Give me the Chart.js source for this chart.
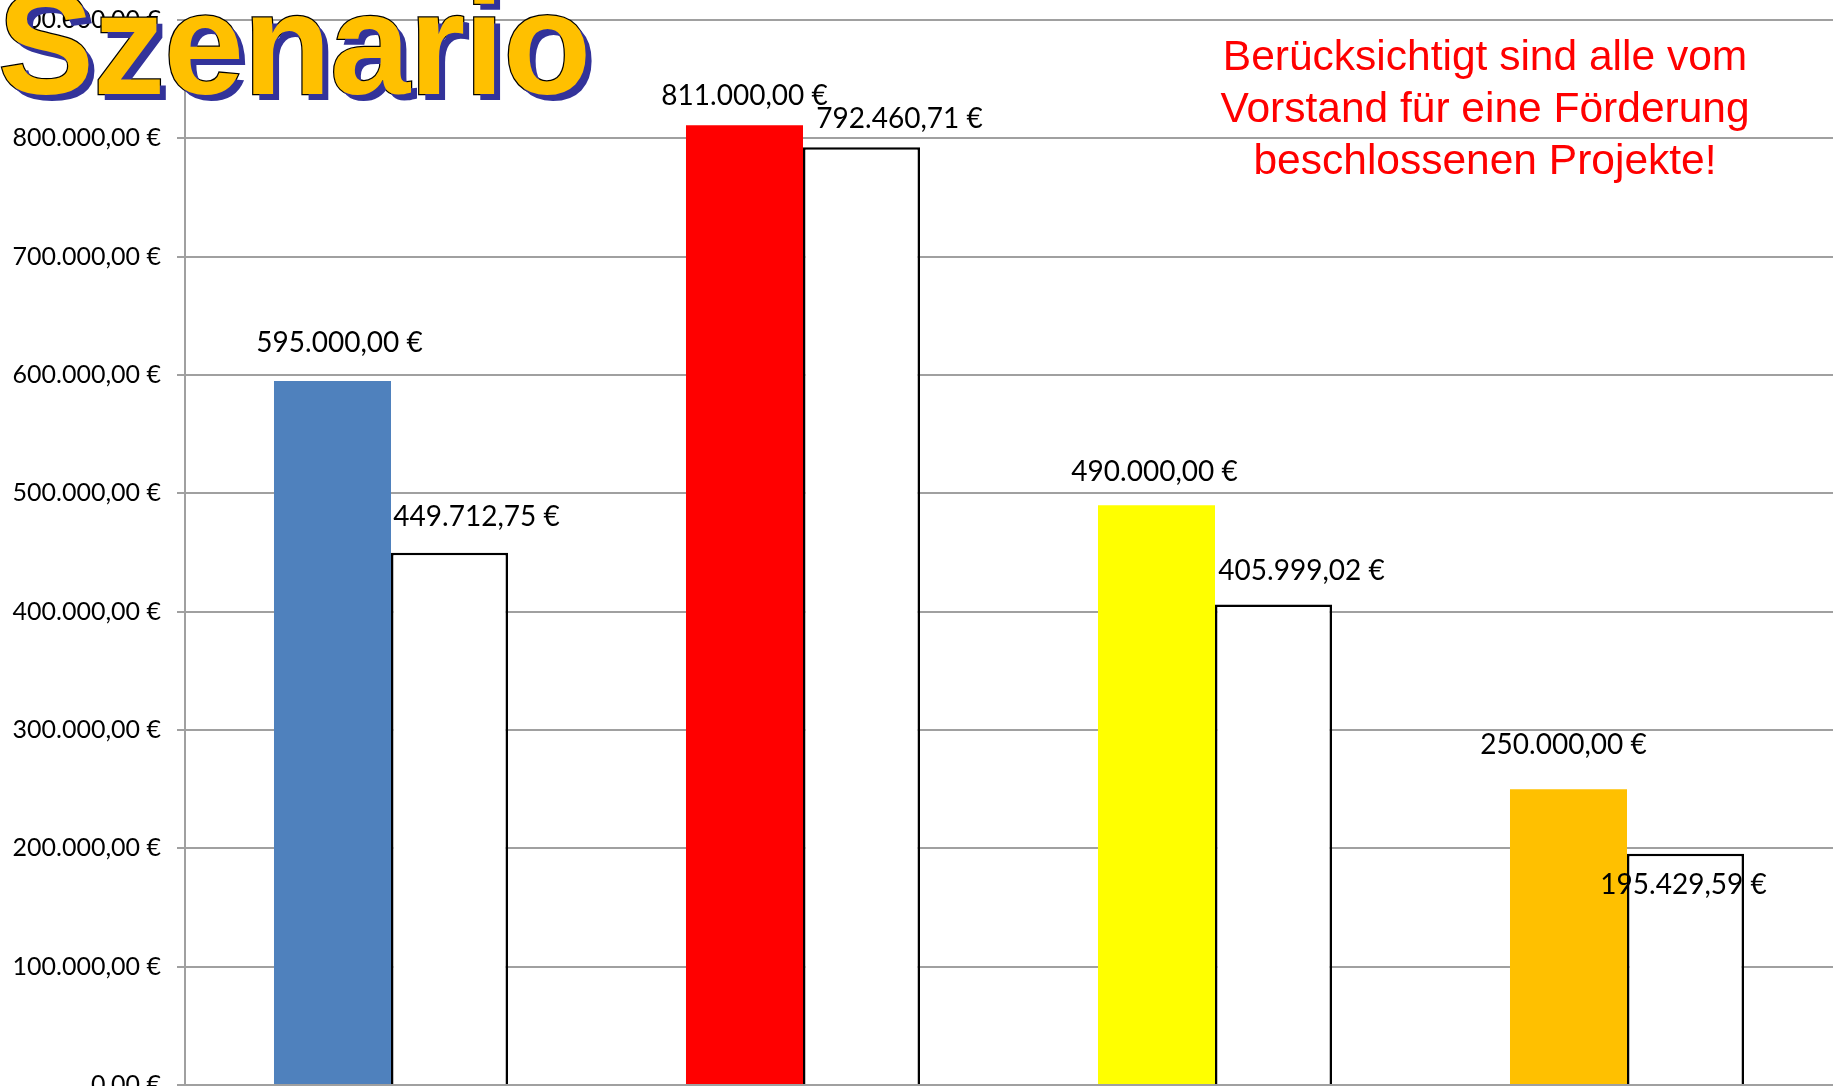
<!DOCTYPE html>
<html>
<head>
<meta charset="utf-8">
<script src="https://cdn.jsdelivr.net/npm/chart.js@4/dist/chart.umd.min.js"></script>
<style>
  html, body { margin: 0; padding: 0; background: #fff; overflow: hidden; }
  #wrap { position: relative; width: 1833px; height: 1086px; overflow: hidden; }
  #c { position: absolute; left: 0; top: -11px; }
  #title {
    position: absolute; left: -2px; top: -27px;
    font-family: "Liberation Sans", Arial, sans-serif; font-weight: bold;
    font-size: 144px; line-height: 1; color: #FFC000;
    -webkit-text-stroke: 2.5px #000; paint-order: stroke fill;
    text-shadow: 6px 6px 0 #33339A;
    white-space: nowrap; letter-spacing: -1px;
  }
  #note {
    position: absolute; left: 1185px; top: 30px; width: 600px;
    font-family: "Liberation Sans", Arial, sans-serif; font-size: 42.5px;
    line-height: 52px; color: #FF0000; text-align: center;
  }
</style>
</head>
<body>
<div id="wrap">
  <canvas id="c" width="1833" height="1127"></canvas>
  <div id="title">Szenario</div>
  <div id="note">Berücksichtigt sind alle vom<br>Vorstand für eine Förderung<br>beschlossenen Projekte!</div>
</div>
<script>
const categories = ["Kategorie 1", "Kategorie 2", "Kategorie 3", "Kategorie 4"];
const seriesPlanned = [595000.00, 811000.00, 490000.00, 250000.00];
const seriesActual = [449712.75, 792460.71, 405999.02, 195429.59];
const plannedColors = ["#4F81BD", "#FF0000", "#FFFF00", "#FFC000"];
const yTicks = [0, 100000, 200000, 300000, 400000, 500000, 600000, 700000, 800000, 900000];

// label offsets (pixels) relative to bar top, as hand-placed in the original
const labelOffsets = [
  [[7, -38], [0, -29], [-2, -33], [-5, -44]],
  [[27, -36], [38, -28], [28, -34], [-2, 31]]
];

function euro(v) {
  const fixed = Math.abs(v).toFixed(2);
  let [int, dec] = fixed.split(".");
  int = int.replace(/\B(?=(\d{3})+(?!\d))/g, ".");
  return (v < 0 ? "-" : "") + int + "," + dec + " €";
}

const labelPlugin = {
  id: "valueLabels",
  afterDatasetsDraw(chart) {
    const ctx = chart.ctx;
    ctx.save();
    ctx.font = "28px Lato, 'Open Sans', sans-serif";
    ctx.fillStyle = "#000";
    ctx.textAlign = "center";
    ctx.textBaseline = "middle";
    chart.data.datasets.forEach((ds, di) => {
      const meta = chart.getDatasetMeta(di);
      meta.data.forEach((el, i) => {
        const off = labelOffsets[di][i];
        ctx.fillText(euro(ds.data[i]), el.x + off[0], el.y + off[1]);
      });
    });
    ctx.restore();
  }
};

new Chart(document.getElementById("c"), {
  type: "bar",
  data: {
    labels: categories,
    datasets: [
      {
        label: "Reihe 1",
        data: seriesPlanned,
        backgroundColor: plannedColors,
        borderWidth: 0,
        categoryPercentage: 0.568,
        barPercentage: 1.0
      },
      {
        label: "Reihe 2",
        data: seriesActual,
        backgroundColor: "#FFFFFF",
        borderColor: "#000000",
        borderWidth: 2.5,
        categoryPercentage: 0.568,
        barPercentage: 1.0
      }
    ]
  },
  options: {
    responsive: false,
    animation: false,
    layout: { padding: { top: 7.6, right: 0, bottom: 1, left: 0 } },
    plugins: { legend: { display: false }, tooltip: { enabled: false } },
    scales: {
      x: {
        ticks: { display: false },
        grid: { display: false },
        border: { display: true, color: "#A0A0A0", width: 2 },
        afterFit: s => { s.height = 0; }
      },
      y: {
        min: 0,
        max: 900000,
        afterBuildTicks: s => { s.ticks = yTicks.map(v => ({ value: v })); },
        afterFit: s => { s.width = 185; },
        ticks: {
          callback: v => euro(v),
          font: { family: "Lato, 'Open Sans', sans-serif", size: 25 },
          color: "#000",
          padding: 16
        },
        grid: { color: "#A0A0A0", lineWidth: 2, tickLength: 8 },
        border: { display: true, color: "#A0A0A0", width: 2 }
      }
    }
  },
  plugins: [labelPlugin]
});
</script>
</body>
</html>
